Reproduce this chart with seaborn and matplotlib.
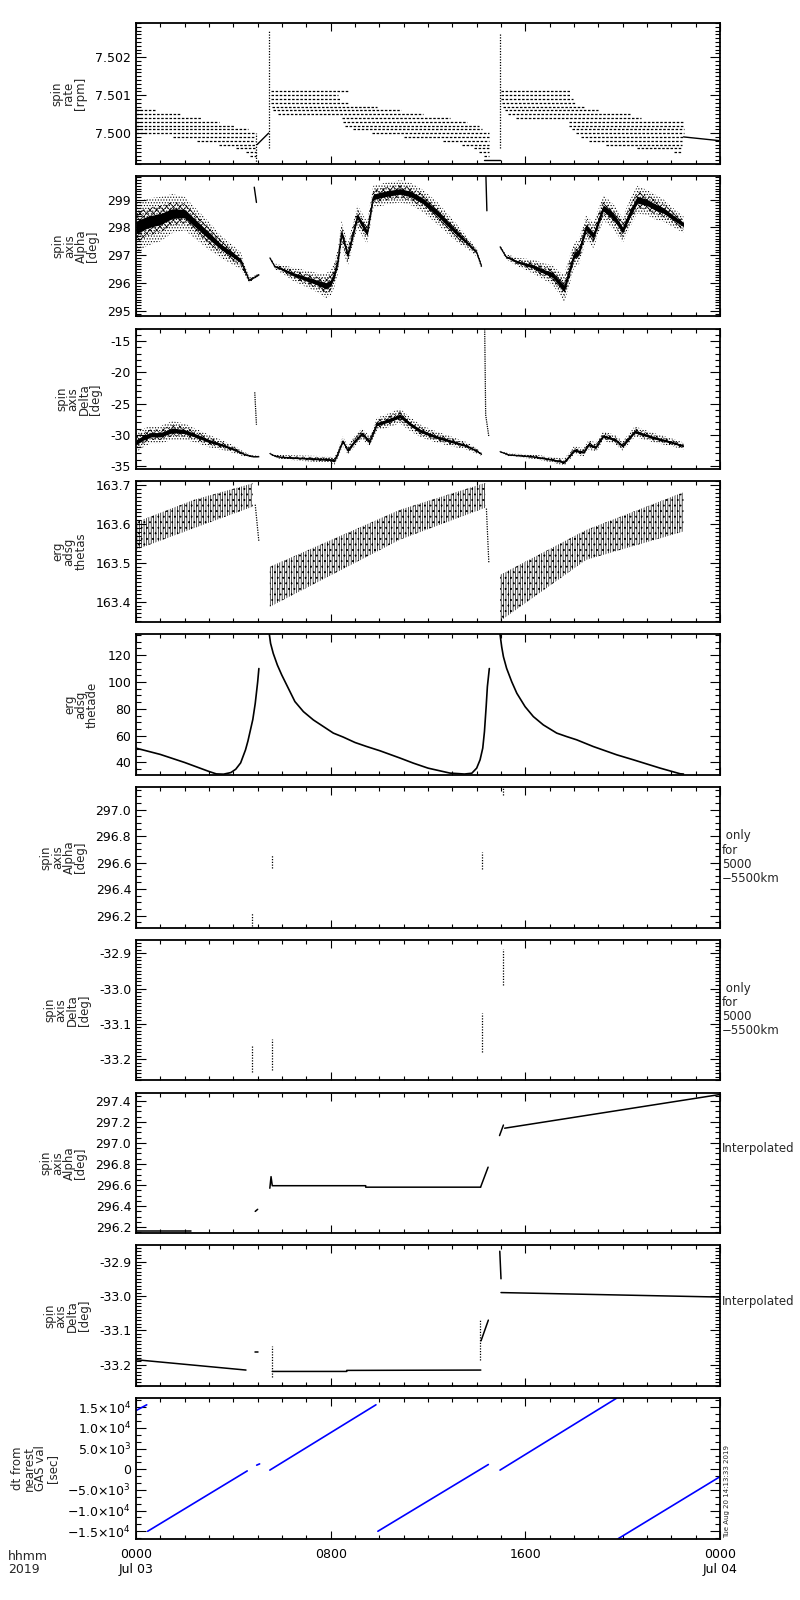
# ERG spin axis / attitude summary plot, 2019-07-03

import numpy as np
import pandas as pd
import matplotlib
matplotlib.use("Agg")
import matplotlib.pyplot as plt
import matplotlib.ticker as mticker
import seaborn as sns

sns.set_style("ticks")
plt.rcParams['font.family'] = ['DejaVu Sans']
plt.rcParams['hatch.linewidth'] = 0.5
plt.rcParams['axes.unicode_minus'] = True

# ------------------------------
# time axis (hours since 0000 Jul 03)
hour_ticks = [0, 8, 16, 24]
hour_labels = ["0000\nJul 03", "0800", "1600", "0000\nJul 04"]

# ------------------------------
# 1. spin rate [rpm]: quantised levels (level, start hour, end hour)
rate_level = [7.5006, 7.5005, 7.5004, 7.5003, 7.5002, 7.5001, 7.5000, 7.4999, 7.4998,
              7.4997, 7.4996, 7.4995, 7.4994,
              7.5011, 7.5010, 7.5009, 7.5008, 7.5007, 7.5006, 7.5005,
              7.5004, 7.5003, 7.5002, 7.5001, 7.5000, 7.4999, 7.4998, 7.4997,
              7.4996, 7.4995, 7.4994,
              7.5011, 7.5010, 7.5009, 7.5008, 7.5007, 7.5006, 7.5005,
              7.5004, 7.5003, 7.5002, 7.5001, 7.5000, 7.4999, 7.4998, 7.4997,
              7.4996, 7.4995]
rate_t0 = [0, 0, 0, 0, 0, 0, 0, 1.5, 2.5, 3.4, 4.1, 4.5, 4.7,
           5.55, 5.55, 5.55, 5.55, 5.6, 5.65, 5.85,
           8.45, 8.5, 8.6, 8.9, 9.7, 11.0, 12.6, 13.4, 13.9, 14.1, 14.3,
           15.0, 15.0, 15.0, 15.05, 15.1, 15.15, 15.3,
           15.6, 17.8, 17.8, 17.9, 18.1, 18.3, 18.6, 19.3, 20.6, 22.1]
rate_t1 = [0.77, 1.8, 2.7, 3.4, 4.05, 4.6, 4.9, 4.9, 4.9, 4.95, 4.95, 4.95, 4.95,
           8.7, 8.3, 8.4, 8.7, 9.9, 10.9, 11.8,
           12.9, 13.6, 14.1, 14.2, 14.5, 14.5, 14.5, 14.5, 14.5, 14.5, 14.5,
           17.85, 17.85, 17.95, 18.1, 18.4, 19.0, 20.3,
           20.75, 22.5, 22.5, 22.5, 22.5, 22.5, 22.45, 22.45, 22.45, 22.45]
# solid pieces of the spin rate trace
rate_line_t = [[4.98, 5.45], [14.3, 14.96], [22.5, 24.0]]
rate_line_v = [[7.4997, 7.5000], [7.4993, 7.4993], [7.4999, 7.4998]]
# vertical spikes (hour, low, high)
rate_spike_t = [4.95, 5.48, 14.96]
rate_spike_lo = [7.4992, 7.4996, 7.4996]
rate_spike_hi = [7.5000, 7.5027, 7.5026]

# ------------------------------
# 2. spin axis Alpha [deg]: centre and half spread of the scatter
alpha_t = [[0, 0.5, 1.0, 1.5, 2.0, 2.5, 3.0, 3.5, 4.0, 4.3, 4.5, 4.65, 4.85, 5.05],
           [5.5, 5.7, 6.0, 6.5, 7.0, 7.5, 7.8, 8.0, 8.15, 8.3, 8.45, 8.7, 9.1, 9.5,
            9.75, 10.2, 10.85, 11.3, 11.8, 12.4, 12.9, 13.3, 13.6, 14.0, 14.2],
           [14.96, 15.2, 15.7, 16.3, 16.8, 17.1, 17.4, 17.6, 17.8, 18.0, 18.2, 18.5,
            18.8, 19.2, 19.5, 19.7, 20.0, 20.3, 20.6, 21.0, 21.3, 21.7, 22.0, 22.5]]
alpha_c = [[298.0, 298.2, 298.3, 298.5, 298.5, 298.1, 297.7, 297.3, 297.0, 296.8,
            296.4, 296.1, 296.2, 296.3],
           [296.9, 296.6, 296.5, 296.3, 296.15, 296.0, 295.9, 296.0, 296.3, 296.8,
            297.8, 297.0, 298.4, 297.8, 299.1, 299.2, 299.3, 299.2, 298.95, 298.5,
            298.05, 297.7, 297.45, 297.1, 296.6],
           [297.3, 296.95, 296.75, 296.6, 296.4, 296.3, 296.0, 295.8, 296.4, 297.0,
            297.1, 298.0, 297.7, 298.7, 298.5, 298.3, 297.9, 298.5, 299.0, 298.9,
            298.75, 298.6, 298.4, 298.1]]
alpha_hw = [[0.9, 0.85, 0.8, 0.7, 0.6, 0.55, 0.5, 0.4, 0.35, 0.3, 0.2, 0.1, 0.06, 0.06],
            [0.06, 0.1, 0.15, 0.25, 0.3, 0.35, 0.45, 0.45, 0.45, 0.45, 0.45, 0.4, 0.4,
             0.4, 0.4, 0.4, 0.4, 0.4, 0.4, 0.4, 0.35, 0.3, 0.2, 0.15, 0.08],
            [0.06, 0.1, 0.15, 0.25, 0.3, 0.35, 0.4, 0.5, 0.5, 0.45, 0.45, 0.45, 0.45,
             0.45, 0.45, 0.45, 0.45, 0.5, 0.5, 0.45, 0.45, 0.4, 0.35, 0.3]]
alpha_spike_t = [[4.86, 4.95], [14.38, 14.42]]
alpha_spike_v = [[299.45, 298.9], [299.85, 298.6]]

# ------------------------------
# 3. spin axis Delta [deg]
delta_t = [[0, 0.3, 0.6, 1.0, 1.5, 2.0, 2.5, 3.0, 3.5, 4.0, 4.5, 4.8, 5.05],
           [5.5, 5.7, 6.0, 7.0, 8.0, 8.15, 8.3, 8.5, 8.7, 9.0, 9.3, 9.6, 9.9, 10.3,
            10.85, 11.3, 11.7, 12.3, 12.9, 13.6, 14.0, 14.2],
           [14.96, 15.3, 16.3, 17.1, 17.6, 17.8, 18.0, 18.4, 18.6, 18.9, 19.2, 19.7,
            20.0, 20.5, 21.3, 22.0, 22.5]]
delta_c = [[-31.2, -30.5, -30.0, -30.0, -29.3, -29.5, -30.2, -31.0, -31.6, -32.3,
            -33.2, -33.5, -33.5],
           [-33.0, -33.4, -33.6, -33.8, -34.0, -34.2, -33.0, -31.0, -32.5, -31.0,
            -29.8, -31.1, -28.3, -27.8, -27.0, -28.4, -29.4, -30.3, -31.0, -31.8,
            -32.6, -33.1],
           [-32.7, -33.2, -33.5, -34.0, -34.4, -33.5, -32.5, -32.8, -31.6, -32.0,
            -30.2, -30.8, -31.8, -29.5, -30.5, -31.2, -31.8]]
delta_hw = [[1.6, 1.5, 1.4, 1.4, 1.5, 1.3, 1.1, 1.0, 0.8, 0.6, 0.35, 0.2, 0.12],
            [0.15, 0.25, 0.35, 0.45, 0.55, 0.65, 0.65, 0.75, 0.75, 0.85, 0.85, 0.85,
             1.0, 1.1, 1.2, 1.1, 1.0, 0.9, 0.8, 0.6, 0.45, 0.25],
            [0.15, 0.25, 0.35, 0.45, 0.55, 0.65, 0.65, 0.65, 0.75, 0.75, 0.75, 0.75,
             0.75, 0.85, 0.75, 0.65, 0.55]]
delta_spike_t = [[4.88, 4.95], [14.33, 14.37, 14.5]]
delta_spike_v = [[-23.2, -28.4], [-13.1, -26.8, -30.3]]

# ------------------------------
# 4. erg adsg thetas: band edges
thetas_t = [[0, 2.4, 4.8], [5.5, 10.85, 14.35], [14.96, 18.5, 22.5]]
thetas_lo = [[163.534, 163.59, 163.645], [163.387, 163.56, 163.642],
             [163.35, 163.508, 163.581]]
thetas_hi = [[163.605, 163.663, 163.705], [163.49, 163.637, 163.706],
             [163.469, 163.585, 163.682]]
thetas_drop_t = [[4.9, 5.05], [14.4, 14.5]]
thetas_drop_v = [[163.65, 163.555], [163.64, 163.50]]

# ------------------------------
# 5. erg adsg thetade
thetade_t = [[0, 1.0, 2.0, 3.0, 3.3, 3.6, 3.9, 4.1, 4.3, 4.5, 4.6, 4.7, 4.8, 4.9, 5.0,
              5.05],
             [5.48, 5.53, 5.64, 5.81, 5.99, 6.26, 6.53, 6.88, 7.29, 7.70, 8.11, 8.52,
              9.00, 9.48, 10.03, 10.85, 11.4, 12.0, 12.9, 13.5, 13.8, 14.0, 14.14,
              14.25, 14.32, 14.39, 14.44, 14.52],
             [14.96, 15.03, 15.1, 15.23, 15.44, 15.65, 15.99, 16.33, 16.74, 17.29, 17.7,
              18.11, 18.79, 19.76, 20.44, 21.54, 22.36, 22.5]]
thetade_v = [[50.7, 46.0, 40.0, 33.3, 31.5, 31.3, 32.5, 35.0, 39.7, 49.4, 56.0, 64.0,
              72.0, 84.0, 100.0, 110.0],
             [135.5, 128.8, 121.3, 112.6, 105.2, 95.3, 85.4, 77.9, 71.7, 66.8, 61.9,
              58.9, 54.9, 51.9, 48.7, 43.3, 39.5, 35.8, 32.1, 31.4, 32.0, 35.8, 42.0,
              50.7, 63.0, 81.6, 96.5, 110.0],
             [135.5, 126.0, 118.8, 110.2, 100.2, 91.6, 81.6, 74.2, 68.0, 61.9, 59.3,
              56.9, 51.9, 45.7, 42.0, 35.8, 31.6, 31.4]]

# ------------------------------
# 6./7. Alpha / Delta only for 5000-5500 km (short dotted clusters)
only_t = [4.75, 5.6, 14.2, 15.07]
only_alpha_lo = [296.12, 296.56, 296.55, 297.11]
only_alpha_hi = [296.22, 296.66, 296.68, 297.16]
only_delta_lo = [-33.236, -33.23, -33.18, -32.99]
only_delta_hi = [-33.162, -33.143, -33.07, -32.888]

# ------------------------------
# 8./9. interpolated Alpha / Delta
interp_alpha_t = [[0, 2.25], [4.9, 5.0], [5.5, 5.55, 5.6, 9.44, 9.44, 14.16],
                  [14.16, 14.47], [14.94, 15.1], [15.15, 24.0]]
interp_alpha_v = [[296.165, 296.165], [296.35, 296.37],
                  [296.57, 296.68, 296.594, 296.594, 296.58, 296.58],
                  [296.58, 296.77], [297.07, 297.17], [297.14, 297.46]]
interp_delta_t = [[0, 4.52], [4.9, 5.0], [5.6, 8.66, 8.66, 14.17], [14.18, 14.48],
                  [14.95, 15.0], [15.0, 24.0]]
interp_delta_v = [[-33.185, -33.215], [-33.163, -33.163],
                  [-33.219, -33.219, -33.216, -33.215], [-33.13, -33.07],
                  [-32.87, -32.95], [-32.99, -33.003]]
interp_delta_dots_t = [5.58, 14.14]
interp_delta_dots_lo = [-33.234, -33.185]
interp_delta_dots_hi = [-33.145, -33.07]

# ------------------------------
# 10. dt from nearest GAS val [sec]
dt_t = [[0, 0.44], [0.48, 4.57], [4.96, 5.08], [5.5, 9.86], [9.94, 14.48],
        [14.96, 19.75], [19.82, 23.97]]
dt_v = [[14200, 15600], [-15000, -400], [1000, 1300], [-200, 15600], [-15000, 1150],
        [-200, 17200], [-16780, -1900]]

ylabels = ["spin\nrate\n[rpm]", "spin\naxis\nAlpha\n[deg]", "spin\naxis\nDelta\n[deg]",
           "erg\nadsg\nthetas", "erg\nadsg\nthetade", "spin\naxis\nAlpha\n[deg]",
           "spin\naxis\nDelta\n[deg]", "spin\naxis\nAlpha\n[deg]",
           "spin\naxis\nDelta\n[deg]", "dt from\nnearest\nGAS val\n[sec]"]
ylims = [(7.4992, 7.5029), (294.8, 299.86), (-35.5, -13.0), (163.348, 163.71),
         (30.9, 135.6), (296.11, 297.17), (-33.26, -32.862), (296.144, 297.478),
         (-33.261, -32.853), (-16800, 17200)]
ymajor = [0.001, 1, 5, 0.1, 20, 0.2, 0.1, 0.2, 0.1, 5000]
yminor = [0.0001, 0.1, 1, 0.01, 5, 0.05, 0.01, 0.05, 0.01, 5000 / 3]
yfmt = ['%.3f', '%d', '%d', '%.1f', '%d', '%.1f', '%.1f', '%.1f', '%.1f', None]


def seg_frame(ts, vs):
    rows = []
    for k, (tt, vv) in enumerate(zip(ts, vs)):
        for t, v in zip(tt, vv):
            rows.append((k, t, v))
    return pd.DataFrame(rows, columns=["seg", "t", "v"])


def draw_lines(ax, ts, vs, **kw):
    df = seg_frame(ts, vs)
    sns.lineplot(data=df, x="t", y="v", units="seg", estimator=None, sort=False,
                 ax=ax, legend=False, **kw)


def draw_vdots(ax, t, lo, hi):
    draw_lines(ax, [[x, x] for x in t], [[a, b] for a, b in zip(lo, hi)],
               color="k", lw=0.9, linestyle=(0, (1, 1.2)))


def draw_scatter_band(ax, ts, cs, hws):
    # scatter cloud: sparse stipple outside, dense mesh inside, solid core
    for tt, cc, hh in zip(ts, cs, hws):
        tt, cc, hh = np.array(tt), np.array(cc), np.array(hh)
        ax.fill_between(tt, cc - hh, cc + hh, facecolor="none", edgecolor="k",
                        hatch="......", linewidth=0)
        ax.fill_between(tt, cc - 0.6 * hh, cc + 0.6 * hh, facecolor="none",
                        edgecolor="k", hatch="xxxxx", linewidth=0)
        ax.fill_between(tt, cc - 0.25 * hh, cc + 0.25 * hh, color="k", linewidth=0)
    draw_lines(ax, ts, cs, color="k", lw=0.8)


def sci_fmt(v, pos):
    if abs(v) < 1e-6:
        return "0"
    e = int(np.floor(np.log10(abs(v)) + 1e-9))
    m = v / 10 ** e
    sign = "\u2212" if m < 0 else ""
    return "%s%.1f\u00d710$^{%d}$" % (sign, abs(m), e)


fig = plt.figure(figsize=(8, 16), dpi=100)
axes = []
for i in range(10):
    top = 23 + i * 152.8
    ax = fig.add_axes([136 / 800, 1 - (top + 140.5) / 1600, 584 / 800, 140.5 / 1600])
    axes.append(ax)

# panel 1: spin rate
ax = axes[0]
draw_lines(ax, [[a, b] for a, b in zip(rate_t0, rate_t1)],
           [[v, v] for v in rate_level], color="k", lw=0.9, linestyle=(0, (2, 1.3)))
draw_lines(ax, rate_line_t, rate_line_v, color="k", lw=1.0)
draw_vdots(ax, rate_spike_t, rate_spike_lo, rate_spike_hi)

# panels 2, 3: scatter of spin axis direction
draw_scatter_band(axes[1], alpha_t, alpha_c, alpha_hw)
draw_lines(axes[1], alpha_spike_t, alpha_spike_v, color="k", lw=1.0)
draw_scatter_band(axes[2], delta_t, delta_c, delta_hw)
draw_lines(axes[2], delta_spike_t, delta_spike_v, color="k", lw=0.9,
           linestyle=(0, (1, 0.8)))

# panel 4: thetas band
ax = axes[3]
for tt, lo, hi in zip(thetas_t, thetas_lo, thetas_hi):
    ax.fill_between(tt, lo, hi, facecolor="none", edgecolor="k", hatch="|||||||...",
                    linewidth=0)
draw_lines(ax, thetas_drop_t, thetas_drop_v, color="k", lw=0.9, linestyle=(0, (1, 1)))

# panel 5: thetade
draw_lines(axes[4], thetade_t, thetade_v, color="k", lw=1.2)

# panels 6, 7
draw_vdots(axes[5], only_t, only_alpha_lo, only_alpha_hi)
draw_vdots(axes[6], only_t, only_delta_lo, only_delta_hi)

# panels 8, 9
draw_lines(axes[7], interp_alpha_t, interp_alpha_v, color="k", lw=1.1)
draw_lines(axes[8], interp_delta_t, interp_delta_v, color="k", lw=1.1)
draw_vdots(axes[8], interp_delta_dots_t, interp_delta_dots_lo, interp_delta_dots_hi)

# panel 10
draw_lines(axes[9], dt_t, dt_v, color="#0000ff", lw=1.2)

for i, ax in enumerate(axes):
    ax.set_xlim(0, 24)
    ax.set_ylim(*ylims[i])
    ax.set_xlabel("")
    ax.set_ylabel(ylabels[i], fontsize=8.5, linespacing=0.85, labelpad=6)
    ax.xaxis.set_major_locator(mticker.FixedLocator(hour_ticks))
    ax.xaxis.set_minor_locator(mticker.MultipleLocator(1))
    ax.yaxis.set_major_locator(mticker.MultipleLocator(ymajor[i]))
    ax.yaxis.set_minor_locator(mticker.MultipleLocator(yminor[i]))
    if yfmt[i] is None:
        ax.yaxis.set_major_formatter(mticker.FuncFormatter(sci_fmt))
    else:
        ax.yaxis.set_major_formatter(mticker.FormatStrFormatter(yfmt[i]))
    ax.tick_params(axis="both", which="both", direction="in", top=True, right=True,
                   width=0.8, labelsize=9, colors="k")
    ax.tick_params(axis="y", which="major", length=7.5)
    ax.tick_params(axis="y", which="minor", length=3.8)
    ax.tick_params(axis="x", which="major", length=6, pad=7)
    ax.tick_params(axis="x", which="minor", length=3)
    for sp in ax.spines.values():
        sp.set_linewidth(1.3)
        sp.set_color("k")
    if i < 9:
        ax.set_xticklabels([])
    else:
        ax.set_xticklabels(hour_labels)

# side notes
for i in (5, 6):
    top = 23 + i * 152.8
    fig.text(722 / 800, 1 - (top + 70) / 1600, " only\nfor\n5000\n\u22125500km",
             fontsize=8.5, ha="left", va="center", linespacing=1.1)
for i in (7, 8):
    top = 23 + i * 152.8
    fig.text(722 / 800, 1 - (top + 56) / 1600, "Interpolated", fontsize=8.5,
             ha="left", va="center")
fig.text(8 / 800, 1 - 1550 / 1600, "hhmm\n2019", fontsize=9, ha="left", va="top",
         linespacing=1.0)
fig.text(724 / 800, 1 - 1538 / 1600, "Tue Aug 20 14:13:33 2019", fontsize=5,
         rotation=90, ha="left", va="bottom")

fig.savefig("out.png", dpi=100)
